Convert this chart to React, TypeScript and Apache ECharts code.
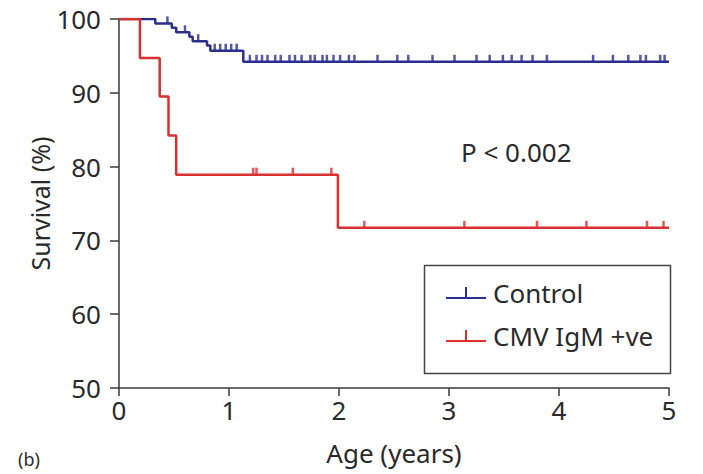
import React, { useEffect, useRef } from "react";
import * as echarts from "echarts";

// Kaplan–Meier step points: time (years) and survival (%)
const controlTimes = [0, 0.33, 0.48, 0.52, 0.64, 0.67, 0.8, 0.83, 1.13, 5];
const controlSurv = [100, 99.4, 98.8, 98.2, 97.6, 97.0, 96.4, 95.7, 94.2, 94.2];
const controlCensored = [
  0.44, 0.6, 0.72, 0.87, 0.92, 0.97, 1.02, 1.07,
  1.19, 1.25, 1.3, 1.35, 1.42, 1.47, 1.55, 1.6, 1.66, 1.74, 1.78, 1.85, 1.89, 1.95,
  2.01, 2.09, 2.14, 2.35, 2.53, 2.63, 2.85, 3.05, 3.25, 3.37, 3.49, 3.57, 3.66,
  3.76, 3.89, 4.31, 4.49, 4.63, 4.74, 4.79, 4.92, 4.96,
];

const cmvTimes = [0, 0.19, 0.37, 0.45, 0.52, 1.99, 5];
const cmvSurv = [100, 94.7, 89.5, 84.2, 78.9, 71.7, 71.7];
const cmvCensored = [1.22, 1.25, 1.58, 1.93, 2.23, 3.14, 3.8, 4.25, 4.8, 4.95];

const xTicks = [0, 1, 2, 3, 4, 5];
const yTicks = [50, 60, 70, 80, 90, 100];
const seriesNames = ["Control", "CMV IgM +ve"];
const pText = "P < 0.002";

const BLUE = "#2a2e8c";
const RED = "#d8312f";
const AXIS = "#3a3a3a";
const TEXT = "#2a2a2a";
const FONT = "'Noto Sans', 'Open Sans', sans-serif";
const FS = 26;

function levelAt(times: number[], surv: number[], t: number) {
  let v = surv[0];
  for (let i = 0; i < times.length; i++) {
    if (times[i] <= t) v = surv[i];
  }
  return v;
}

export default function App() {
  const ref = useRef<HTMLDivElement>(null);
  useEffect(() => {
    if (!ref.current) return;
    const chart = echarts.init(ref.current, undefined, { renderer: "svg" });
    const icon = "path://M0,10 L19,10 L19,0 L21,0 L21,10 L40,10 L40,12 L0,12 Z";
    const censorSymbol = {
      type: "scatter" as const,
      symbol: "rect",
      symbolSize: [2.5, 7],
      symbolOffset: [0, -3.5],
      silent: true,
      z: 3,
    };
    chart.setOption({
      animation: false,
      textStyle: { fontFamily: FONT },
      grid: { left: 119, right: 34, top: 19, bottom: 86 },
      xAxis: {
        type: "value",
        min: 0,
        max: 5,
        interval: 1,
        name: "Age (years)",
        nameLocation: "middle",
        nameGap: 52,
        nameTextStyle: { fontSize: FS, color: TEXT, fontFamily: FONT },
        axisLine: { show: true, onZero: false, lineStyle: { color: AXIS, width: 1.5 } },
        axisTick: { show: true, length: 8, lineStyle: { color: AXIS, width: 1.5 } },
        axisLabel: {
          fontSize: FS,
          color: TEXT,
          margin: 9,
          fontFamily: FONT,
          formatter: (v: number) => (xTicks.includes(v) ? String(v) : ""),
        },
        splitLine: { show: false },
      },
      yAxis: {
        type: "value",
        min: 50,
        max: 100,
        interval: 10,
        name: "Survival (%)",
        nameLocation: "middle",
        nameGap: 67,
        nameMoveOverlap: false,
        nameTextStyle: { fontSize: 25, color: TEXT, fontFamily: FONT },
        axisLine: { show: true, lineStyle: { color: AXIS, width: 1.5 } },
        axisTick: { show: true, length: 9, lineStyle: { color: AXIS, width: 1.5 } },
        axisLabel: {
          fontSize: FS,
          color: TEXT,
          margin: 18,
          fontFamily: FONT,
          formatter: (v: number) => (yTicks.includes(v) ? String(v) : ""),
        },
        splitLine: { show: false },
      },
      legend: {
        data: seriesNames.map((n) => ({ name: n, icon })),
        orient: "vertical",
        left: 441,
        top: 275,
        itemWidth: 40,
        itemHeight: 12,
        itemGap: 17,
        selectedMode: false,
        textStyle: { fontSize: FS, color: TEXT, fontFamily: FONT, padding: [0, 0, 0, 2] },
      },
      graphic: [
        {
          type: "rect",
          left: 422,
          top: 263,
          shape: { width: 246, height: 108 },
          style: { fill: "none", stroke: "#444", lineWidth: 1.5 },
          z: 10,
        },
        {
          type: "text",
          left: 461,
          top: 139,
          style: { text: pText, font: `26px ${FONT}`, fill: TEXT },
        },
        {
          type: "text",
          left: 18,
          top: 450,
          style: { text: "(b)", font: `18px ${FONT}`, fill: TEXT },
        },
      ],
      series: [
        {
          name: seriesNames[0],
          type: "line",
          step: "end",
          showSymbol: false,
          symbol: "none",
          data: controlTimes.map((t, i) => [t, controlSurv[i]]),
          lineStyle: { color: BLUE, width: 2.5 },
          itemStyle: { color: BLUE },
          z: 2,
        },
        {
          name: seriesNames[1],
          type: "line",
          step: "end",
          showSymbol: false,
          symbol: "none",
          data: cmvTimes.map((t, i) => [t, cmvSurv[i]]),
          lineStyle: { color: RED, width: 2.5 },
          itemStyle: { color: RED },
          z: 3,
        },
        {
          ...censorSymbol,
          name: "Control censored",
          itemStyle: { color: BLUE },
          data: controlCensored.map((t) => [t, levelAt(controlTimes, controlSurv, t)]),
        },
        {
          ...censorSymbol,
          name: "CMV censored",
          itemStyle: { color: RED },
          data: cmvCensored.map((t) => [t, levelAt(cmvTimes, cmvSurv, t)]),
        },
      ],
    });
    return () => chart.dispose();
  }, []);
  return (
    <div
      ref={ref}
      style={{ position: "fixed", left: 0, top: 0, width: 703, height: 474, background: "#fff" }}
    />
  );
}
